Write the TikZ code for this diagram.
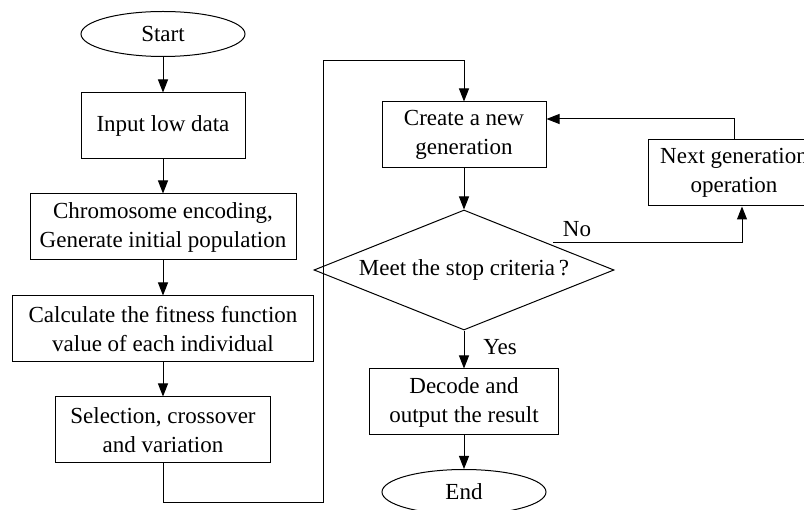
\documentclass[tikz,border=0pt]{standalone}
\usepackage{fontspec}
\setmainfont{Liberation Serif}
\usepackage{tikz}
\usetikzlibrary{shapes.geometric, arrows.meta}

\tikzset{
    box/.style={draw, rectangle, minimum height=66pt, inner sep=0pt, align=center},
    term/.style={draw, ellipse, minimum width=164pt, minimum height=45pt, inner sep=0pt},
    pfeil/.style={-{Triangle[length=13pt, width=10pt]}}
}

\begin{document}
\begin{tikzpicture}[x=1pt, y=-1pt, line width=1pt, font=\fontsize{23}{29}\selectfont]
    \useasboundingbox (0,0) rectangle (804,510);
    \clip (0,0) rectangle (804,510);

    % Linke Spalte.
    \node[term] (start) at (163,34) {Start};
    \node[box, minimum width=164pt] (input) at (163,126) {Input low data};
    \node[box, minimum width=266pt] (chrom) at (163,227) {Chromosome encoding,\\Generate initial population};
    \node[box, minimum width=301pt] (calc) at (163,329) {Calculate the fitness function\\value of each individual};
    \node[box, minimum width=215pt] (sel) at (163,430) {Selection, crossover\\and variation};

    % Rechte Spalte.
    \node[box, minimum width=164pt] (create) at (464,135) {Create a new\\generation};
    \node[box, minimum width=172pt] (next) at (734,173) {Next generation\\operation};
    \node[draw, diamond, aspect=2.5, minimum width=300pt, minimum height=120pt, inner sep=0pt] (dia) at (464,270) {Meet the stop criteria\,?};
    \node[box, minimum width=189pt] (decode) at (464,402) {Decode and\\output the result};
    \node[term] (end) at (464,492) {End};

    \coordinate (lo) at (323,503);
    \coordinate (hi) at (323,61);

    % Pfeile.
    \draw[pfeil] (start) -- (input);
    \draw[pfeil] (input) -- (chrom);
    \draw[pfeil] (chrom) -- (calc);
    \draw[pfeil] (calc) -- (sel);
    \draw[pfeil] (sel.south) |- (lo) -- (hi) -| (create.north);
    \draw[pfeil] (create) -- (dia);
    \draw[pfeil] (dia) -- (decode);
    \draw[pfeil] (decode) -- (end);
    \draw[pfeil] (next.north) |- ([yshift=16pt]create.east);
    \draw[pfeil] ([xshift=14pt, yshift=-3pt]dia.north east) -| ([xshift=8pt]next.south);

    % Beschriftung.
    \draw node at (577,229) {No};
    \draw node at (500,347) {Yes};
\end{tikzpicture}
\end{document}
